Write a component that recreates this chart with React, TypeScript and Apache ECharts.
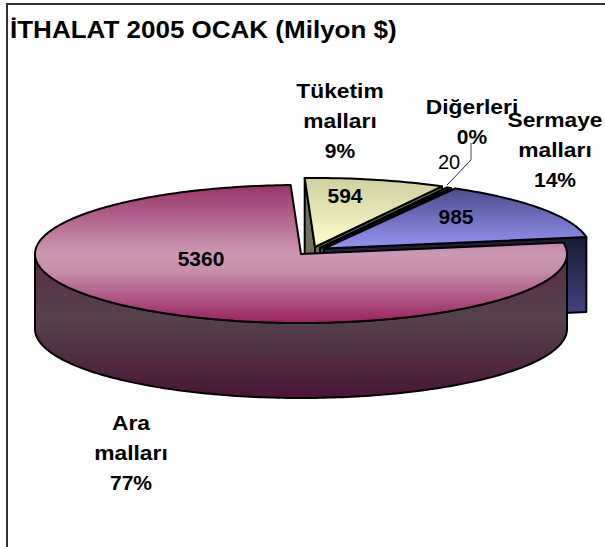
import React, { useEffect, useRef } from "react";
import * as echarts from "echarts";

const categories = ["Sermaye malları", "Diğerleri", "Tüketim malları", "Ara malları"];
const values = [985, 20, 594, 5360];
const drawOrder = [2, 1, 0, 3];

const START_DEG = 9.5;
const RX = 266;
const RY = 69;
const DEPTH = 75;
const centers = [[324, 248.5], [320, 248], [315, 247], [301, 254]];
const topStops = [
  [[0, "#4C4C8C"], [1, "#9494F4"]],
  [[0, "#6F9A98"], [1, "#8AB0AE"]],
  [[0, "#CFCF9F"], [1, "#FFFFCC"]],
  [[0, "#983468"], [0.5, "#CC99B4"], [0.62, "#C68FAC"], [1, "#99215F"]],
];
const wallStops = [
  [[0, "#1A1A36"], [1, "#47478C"]],
  [[0, "#2A4444"], [1, "#3A5A5A"]],
  [[0, "#77775A"], [1, "#66664C"]],
  [[0, "#5A2A46"], [0.45, "#55424C"], [1, "#4A1636"]],
];
const numberLabels = [[456, 216], [449, 162], [345, 195], [201, 258]];
const nameLabels = [[555, 150], [472, 122], [340, 121], [131, 453]];

const total = values.reduce((a, b) => a + b, 0);
const grad = (stops: any[]) =>
  new echarts.graphic.LinearGradient(0, 0, 0, 1, stops.map(([offset, color]) => ({ offset, color })));

function angleSpans() {
  let start = START_DEG;
  return values.map((v) => {
    const sweep = (v / total) * 360;
    const span = [start, start + sweep];
    start += sweep;
    return span;
  });
}

function renderItem(_p: any, api: any) {
  const i = api.value(0) as number;
  const [from, to] = angleSpans()[i];
  const [cx, cy] = centers[i];
  const pt = (deg: number) => {
    const r = (deg * Math.PI) / 180;
    return [cx + RX * Math.cos(r), cy - RY * Math.sin(r)];
  };
  const arc: number[][] = [];
  const steps = Math.max(2, Math.ceil(to - from));
  for (let s = 0; s <= steps; s++) arc.push(pt(from + ((to - from) * s) / steps));
  const stroke = { stroke: "#000", lineWidth: 2, lineJoin: "round" };
  const children: any[] = [];
  const wall = grad(wallStops[i]);
  const cos = (d: number) => Math.cos((d * Math.PI) / 180);
  const visibleFaces = [...(cos(from) > 0 ? [from] : []), ...(cos(to) < 0 ? [to] : [])];
  visibleFaces.forEach((deg) => {
    const rim = pt(deg);
    children.push({
      type: "polygon",
      shape: { points: [[cx, cy], rim, [rim[0], rim[1] + DEPTH], [cx, cy + DEPTH]] },
      style: { fill: wall, ...stroke },
    });
  });
  const norm = (d: number) => ((d % 360) + 360) % 360;
  const frontArc: number[][] = [];
  for (let d = Math.ceil(from); d <= to; d++) {
    if (norm(d) >= 180 || norm(d) === 0) frontArc.push(pt(d));
  }
  if (frontArc.length > 1) {
    const bottom = frontArc.map(([x, y]) => [x, y + DEPTH]).reverse();
    children.push({
      type: "polygon",
      shape: { points: [...frontArc, ...bottom] },
      style: { fill: wall, ...stroke },
    });
  }
  children.push({
    type: "polygon",
    shape: { points: [[cx, cy], ...arc] },
    style: { fill: grad(topStops[i]), ...stroke },
  });
  return { type: "group", children };
}

const textEl = (text: string, x: number, y: number, font: string, scaleX: number) => ({
  type: "text",
  x,
  y,
  scaleX,
  style: { x: 0, y: 0, text, fill: "#000", font, align: "center", verticalAlign: "middle" },
});

function labelItem(_p: any, api: any) {
  const i = api.value(0) as number;
  const pct = Math.round((values[i] / total) * 100);
  const words = categories[i].split(" ");
  const small = values[i] < 100;
  const [nx, ny] = nameLabels[i];
  const lines = [...words, `${pct}%`];
  const bold = 'bold 20px "Liberation Sans"';
  return {
    type: "group",
    children: [
      textEl(
        String(values[i]),
        numberLabels[i][0],
        numberLabels[i][1],
        small ? 'normal 20px "Liberation Sans"' : 'bold 21px "Liberation Sans"',
        1
      ),
      ...lines.map((line, k) =>
        textEl(line, nx, ny + (k - (lines.length - 1) / 2) * 30, bold, k === lines.length - 1 ? 1.05 : 1.14)
      ),
    ],
  };
}

export default function App() {
  const ref = useRef<HTMLDivElement>(null);
  useEffect(() => {
    const chart = echarts.init(ref.current!, null, { renderer: "svg" });
    chart.setOption({
      animation: false,
      backgroundColor: "#fff",
      series: [
        {
          type: "custom",
          coordinateSystem: "none",
          silent: true,
          data: drawOrder.map((i) => [i, values[i]]),
          renderItem,
        },
        {
          type: "custom",
          coordinateSystem: "none",
          silent: true,
          z: 5,
          data: categories.map((_, i) => [i, values[i]]),
          renderItem: labelItem,
        },
      ],
      graphic: [
        {
          type: "rect",
          z: 0,
          shape: { x: 7, y: 4, width: 640, height: 620 },
          style: { fill: "none", stroke: "#333", lineWidth: 2 },
        },
        {
          type: "text",
          x: 10,
          y: 29,
          z: 10,
          scaleX: 1.084,
          style: {
            text: "İTHALAT 2005 OCAK (Milyon $)",
            font: 'bold 24px "Liberation Sans"',
            fill: "#000",
            verticalAlign: "middle",
          },
        },
        {
          type: "polyline",
          z: 10,
          shape: { points: [[471, 143], [471, 160]] },
          style: { fill: "none", stroke: "#888", lineWidth: 1.5 },
        },
        {
          type: "polyline",
          z: 10,
          shape: { points: [[471, 160], [447, 185]] },
          style: { fill: "none", stroke: "#222", lineWidth: 1 },
        },
      ],
    });
    return () => chart.dispose();
  }, []);
  return <div ref={ref} style={{ position: "fixed", left: 0, top: 0, width: 605, height: 547 }} />;
}
